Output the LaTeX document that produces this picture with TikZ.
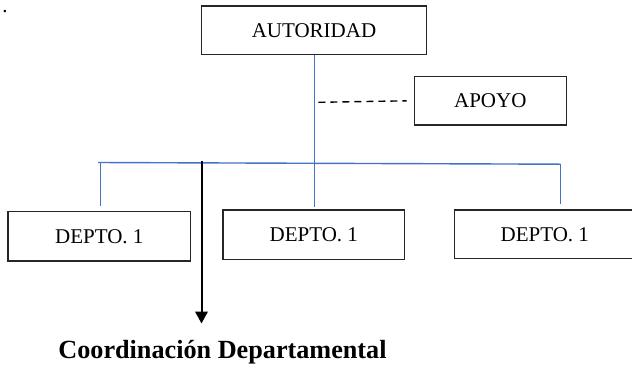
\documentclass[tikz,border=0pt]{standalone}
\usepackage{fontspec}
\setmainfont{Liberation Serif}
\usetikzlibrary{arrows.meta}
\definecolor{linkblue}{HTML}{4472C4}
\tikzset{
  unitbox/.style={draw=black!85, line width=1.2pt, inner sep=0pt, align=center,
    font=\fontsize{21}{24}\selectfont},
  bluelink/.style={draw=linkblue, line width=1.4pt},
  staffline/.style={draw=black, line width=1.4pt, dash pattern=on 7pt off 5pt},
  coordarrow/.style={draw=black, line width=2pt, -{Triangle[length=12pt,width=12.5pt]}}
}
\begin{document}
\begin{tikzpicture}[x=1pt,y=-1pt]
  \useasboundingbox (0,0) rectangle (632,368);
  \clip (0,0) rectangle (632,368);

  % stray period in the corner
  \node[anchor=base, inner sep=0pt, font=\fontsize{21}{24}\selectfont] (dot) at (5,12.5) {.};

  % boxes
  \node[unitbox, minimum width=225pt, minimum height=48.5pt] (aut) at (314,30.3) {AUTORIDAD};
  \node[unitbox, minimum width=152pt, minimum height=48.3pt] (apoyo) at (490.3,100.8) {APOYO};
  \node[unitbox, minimum width=182.6pt, minimum height=49.3pt] (d1) at (99.3,236.3) {DEPTO. 1};
  \node[unitbox, minimum width=181.8pt, minimum height=49.3pt] (d2) at (313.8,234.7) {DEPTO. 1};
  \node[unitbox, minimum width=180pt, minimum height=48.5pt] (d3) at (544.8,234.3) {DEPTO. 1};

  % bus line and drop points
  \coordinate (busL) at (98,162.5);
  \coordinate (busR) at (560.7,164.2);
  \coordinate (dropL) at (100.4,206);
  \coordinate (dropR) at (560.7,204);
  \coordinate (midEnd) at (314.4,206.7);
  \coordinate (staffJoin) at (318.4,102.3);
  \coordinate (arrowTop) at (201.5,161);
  \coordinate (arrowEnd) at (201.5,323.5);

  % blue hierarchy lines
  \draw[bluelink] (aut.south -| midEnd) -- (midEnd);
  \draw[bluelink] (busL) -- (busR);
  \draw[bluelink] (dropL |- busL) -- (dropL);
  \draw[bluelink] (busR) -- (dropR);

  % staff (support) link
  \draw[staffline] (staffJoin) -- ([xshift=-7pt]apoyo.west);

  % coordination arrow and label
  \draw[coordarrow] (arrowTop) -- (arrowEnd);
  \node[anchor=base, inner sep=0pt, font=\bfseries\fontsize{26.2}{30}\selectfont] (coord) at (222.5,358.3) {Coordinación Departamental};
\end{tikzpicture}
\end{document}
